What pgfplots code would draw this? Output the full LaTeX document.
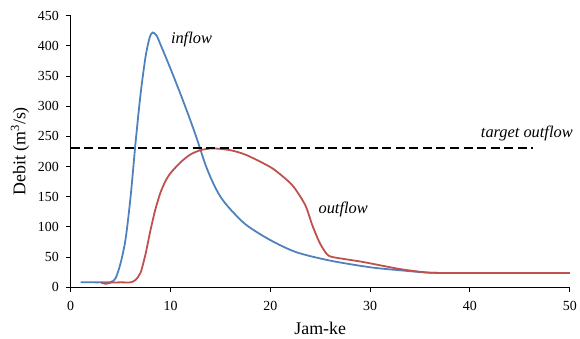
\documentclass[border=0pt]{standalone}
\usepackage{pgfplots}
\pgfplotsset{compat=1.18}
\usepackage{fontspec}
\setmainfont{Liberation Serif}
\definecolor{inblue}{RGB}{79,129,189}
\definecolor{outred}{RGB}{192,80,77}
\begin{document}
\begin{tikzpicture}
\begin{axis}[
  scale only axis,
  width=501bp, height=272.6bp,
  xmin=0, xmax=50, ymin=0, ymax=450,
  axis x line*=bottom, axis y line*=left,
  axis line style={line width=1.1pt, black},
  xtick={0,10,...,50}, ytick={0,50,...,450},
  tick align=outside, tick style={black, line width=0.9pt},
  major tick length=4.5bp,
  tick label style={font=\fontsize{14}{16}\selectfont},
  yticklabel style={xshift=-4bp},
  xticklabel style={yshift=-6bp},
  /pgf/number format/assume math mode=true,
  xlabel={Jam-ke}, ylabel={Debit (m\textsuperscript{3}/s)},
  label style={font=\fontsize{18}{20}\selectfont},
  xlabel style={yshift=-5bp},
  ylabel style={yshift=2bp},
  clip=false,
]
\path (rel axis cs:-0.1417,-0.1897) rectangle (rel axis cs:1.016,1.0576);
\addplot[inblue, line width=1.8pt, smooth, tension=0.5] coordinates {
(1,8)(2,8)(3,8)(4,8.5)(4.5,15)(5,40)(5.5,80)(6,150)(6.5,240)(7,320)(7.5,382)(7.9,413)(8.2,422)(8.6,417)(9,402)(10,362)(11,320)(12,276)(12.7,243)(13.5,203)(14.2,175)(15,150)(16,129)(17.6,103)(20,78)(22.6,58)(26,44)(30,33)(33,28)(36,24)(40,23.5)(50,23.5)
};
\addplot[outred, line width=1.8pt, smooth, tension=0.4] coordinates {
(3,8)(3.5,5.5)(4,7.5)(5,8)(6,8)(6.5,12)(7,24)(7.5,55)(8,95)(8.5,130)(9,157)(9.5,176)(10,189)(11,207)(12,220)(13,227)(14.2,230)(16,227)(17.6,219)(20.2,197)(22.2,169)(23.5,136)(24.2,103)(24.9,75)(25.6,56)(26.2,50)(29.2,42)(33,30)(36,24)(40,23.5)(50,23.5)
};
\addplot[black, line width=2pt, dash pattern=on 9bp off 4.6bp] coordinates {(0,230)(46.3,230)};
\node[font=\fontsize{16.5}{18}\selectfont\itshape] at (axis cs:12.1,410) {inflow};
\node[font=\fontsize{16.5}{18}\selectfont\itshape] at (axis cs:27.3,129) {outflow};
\node[font=\fontsize{16.5}{18}\selectfont\itshape] at (axis cs:45.7,254) {target outflow};
\end{axis}
\end{tikzpicture}
\end{document}
